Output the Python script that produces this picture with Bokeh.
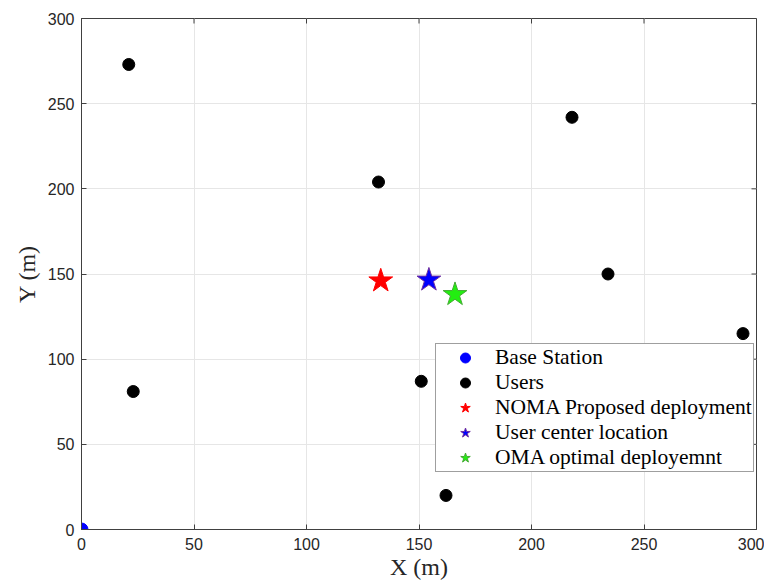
import math
from bokeh.plotting import figure
from bokeh.models import Legend, LegendItem, Range1d, FixedTicker
from bokeh.embed import file_html
from bokeh.resources import INLINE

# Data
bs_x = [0]
bs_y = [0]
users_x = [21, 132, 218, 234, 294, 151, 162, 23]
users_y = [273, 204, 242, 150, 115, 87, 20, 81]
noma_x = [133]
noma_y = [146]
center_x = [154.4]
center_y = [146.5]
oma_x = [166]
oma_y = [138]
ticks = [0, 50, 100, 150, 200, 250, 300]
x_max = 300
y_max = 300

p = figure(width=764, height=582, output_backend="svg", toolbar_location=None,
           x_range=Range1d(0, x_max), y_range=Range1d(0, y_max),
           min_border_left=81, min_border_right=8, min_border_top=18, min_border_bottom=50)

p.outline_line_color = "#404040"
p.outline_line_width = 1

xax = p.below[0]
yax = p.left[0]
for ax in (xax, yax):
    ax.ticker = FixedTicker(ticks=ticks)
    ax.major_tick_in = 5
    ax.major_tick_out = 0
    ax.minor_tick_line_color = None
    ax.axis_line_color = "#404040"
    ax.major_tick_line_color = "#404040"
    ax.major_label_text_font = "Liberation Sans"
    ax.major_label_text_font_size = "16px"
    ax.major_label_text_color = "#262626"
    ax.axis_label_text_font = "Liberation Serif"
    ax.axis_label_text_font_size = "24px"
    ax.axis_label_text_font_style = "normal"
    ax.axis_label_text_color = "#262626"

xax.axis_label = "X (m)"
yax.axis_label = "Y (m)"
xax.major_label_standoff = 8
yax.major_label_standoff = 7
xax.axis_label_standoff = 1
yax.axis_label_standoff = 5

p.xgrid.ticker = FixedTicker(ticks=ticks)
p.ygrid.ticker = FixedTicker(ticks=ticks)
p.grid.grid_line_color = "#e6e6e6"
p.grid.grid_line_width = 1

# mirrored inward ticks on the top and right edges of the box
p.ray(x=ticks, y=[y_max] * len(ticks), length=5, length_units="screen",
      angle=-math.pi / 2, line_color="#404040", line_width=1)
p.ray(x=[x_max] * len(ticks), y=ticks, length=5, length_units="screen",
      angle=math.pi, line_color="#404040", line_width=1)

r_bs = p.scatter(bs_x, bs_y, marker="circle", size=13, fill_color="blue", line_color="blue")
r_users = p.scatter(users_x, users_y, marker="circle", size=12, fill_color="black", line_color="black")
r_noma = p.scatter(noma_x, noma_y, marker="star", size=25, fill_color="red", line_color="red")
r_center = p.scatter(center_x, center_y, marker="star", size=25, fill_color="#0000ff", line_color="#7030a0")
r_oma = p.scatter(oma_x, oma_y, marker="star", size=25, fill_color="#22ee11", line_color="#44aa33")

legend = Legend(items=[
    LegendItem(label="Base Station", renderers=[r_bs]),
    LegendItem(label="Users", renderers=[r_users]),
    LegendItem(label="NOMA Proposed deployment", renderers=[r_noma]),
    LegendItem(label="User center location", renderers=[r_center]),
    LegendItem(label="OMA optimal deployemnt", renderers=[r_oma]),
], location=(354, 57))
legend.label_text_font = "Liberation Serif"
legend.label_text_font_size = "21.5px"
legend.label_text_color = "black"
legend.glyph_width = 56
legend.glyph_height = 25
legend.label_height = 25
legend.spacing = 0
legend.padding = 1
legend.margin = 0
legend.label_standoff = 2
legend.border_line_color = "#404040"
legend.border_line_width = 1
legend.background_fill_alpha = 1
p.add_layout(legend, "center")

open("out.html", "w").write(file_html(p, INLINE))
